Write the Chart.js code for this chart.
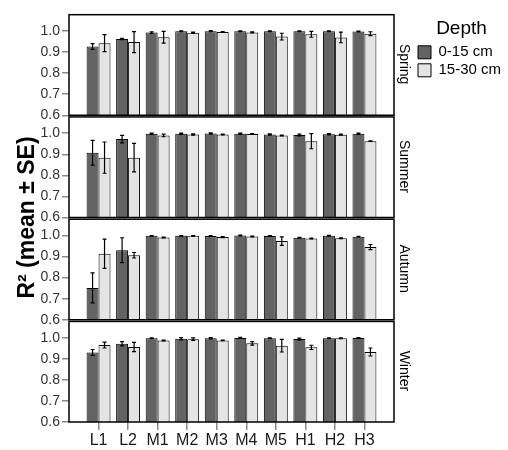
<!DOCTYPE html>
<html>
<head>
<meta charset="utf-8">
<script src="https://cdn.jsdelivr.net/npm/chart.js"></script>
<style>
  html, body { margin: 0; padding: 0; background: #fff; }
  #wrap { width: 508px; height: 450px; position: relative; }
</style>
</head>
<body>
<div id="wrap"><canvas id="chart"></canvas></div>
<script>
const categories = ['L1', 'L2', 'M1', 'M2', 'M3', 'M4', 'M5', 'H1', 'H2', 'H3'];
const seasons = ['Spring', 'Summer', 'Autumn', 'Winter'];
const depths = ['0-15 cm', '15-30 cm'];

// R2 means, one array per season and depth
const springTop = [0.926, 0.962, 0.992, 0.998, 0.999, 0.998, 0.998, 0.998, 0.998, 0.997];
const springTopSE = [0.014, 0.003, 0.004, 0.002, 0.002, 0.002, 0.002, 0.002, 0.002, 0.002];
const springSub = [0.942, 0.947, 0.970, 0.991, 0.995, 0.993, 0.973, 0.984, 0.969, 0.987];
const springSubSE = [0.040, 0.050, 0.028, 0.003, 0.002, 0.002, 0.016, 0.014, 0.025, 0.009];

const summerTop = [0.907, 0.972, 0.997, 0.997, 0.998, 0.997, 0.994, 0.991, 0.995, 0.997];
const summerTopSE = [0.059, 0.018, 0.003, 0.003, 0.003, 0.003, 0.003, 0.004, 0.003, 0.003];
const summerSub = [0.884, 0.884, 0.989, 0.994, 0.994, 0.996, 0.989, 0.962, 0.993, 0.962];
const summerSubSE = [0.074, 0.068, 0.006, 0.003, 0.002, 0.002, 0.002, 0.036, 0.002, 0.001];

const autumnTop = [0.751, 0.930, 0.998, 0.998, 0.997, 1.000, 0.997, 0.989, 0.998, 0.994];
const autumnTopSE = [0.071, 0.059, 0.001, 0.001, 0.002, 0.002, 0.002, 0.002, 0.002, 0.001];
const autumnSub = [0.913, 0.906, 0.990, 0.998, 0.992, 0.995, 0.973, 0.985, 0.987, 0.945];
const autumnSubSE = [0.069, 0.013, 0.002, 0.001, 0.002, 0.002, 0.020, 0.002, 0.002, 0.012];

const winterTop = [0.930, 0.971, 0.997, 0.995, 0.997, 0.999, 0.997, 0.994, 0.997, 0.998];
const winterTopSE = [0.014, 0.010, 0.002, 0.005, 0.003, 0.002, 0.002, 0.004, 0.002, 0.002];
const winterSub = [0.965, 0.956, 0.987, 0.993, 0.987, 0.973, 0.962, 0.954, 0.997, 0.932];
const winterSubSE = [0.014, 0.022, 0.002, 0.006, 0.001, 0.008, 0.030, 0.010, 0.002, 0.019];

const yTicks = [0.6, 0.7, 0.8, 0.9, 1.0];

const seriesBySeason = {
    Spring: [[springTop, springTopSE], [springSub, springSubSE]],
    Summer: [[summerTop, summerTopSE], [summerSub, summerSubSE]],
    Autumn: [[autumnTop, autumnTopSE], [autumnSub, autumnSubSE]],
    Winter: [[winterTop, winterTopSE], [winterSub, winterSubSE]]
};

const barFill = ['#636363', '#e4e4e4'];
const yMin = 0.6;
const yMax = 1.085;
const frameTop = 1.077;

Chart.defaults.font.family = "'Liberation Sans', Arial, sans-serif";
Chart.defaults.color = '#000';

// pad the category axis with a blank slot at each end
const labels = [''].concat(categories, ['']);
const pad = arr => [null].concat(arr, [null]);

const datasets = [];
seasons.forEach(season => {
    seriesBySeason[season].forEach((pair, d) => {
        datasets.push({
            label: depths[d],
            data: pad(pair[0]),
            se: pad(pair[1]),
            yAxisID: 'y' + season,
            stack: 'depth' + d,
            backgroundColor: barFill[d],
            borderColor: '#000',
            borderWidth: 1,
            categoryPercentage: 0.81,
            barPercentage: 1.0
        });
    });
});

const scales = {
    x: {
        offset: false,
        grid: {
            offset: false,
            drawOnChartArea: false,
            tickLength: 8,
            lineWidth: 1.5,
            color: ctx => (ctx.index === 0 || ctx.index === labels.length - 1) ? 'rgba(0,0,0,0)' : '#8a8a8a'
        },
        border: { display: false },
        ticks: { font: { size: 16 }, color: '#1a1a1a', padding: 1, autoSkip: false, maxRotation: 0 },
        afterFit: s => { s.height = 28; }
    }
};

// left panels: last defined ends up on top of the stack
seasons.slice().reverse().forEach(season => {
    scales['y' + season] = {
        position: 'left',
        stack: 'panels',
        stacked: false,
        min: yMin,
        max: yMax,
        afterBuildTicks: s => { s.ticks = yTicks.map(v => ({ value: v })); },
        ticks: { font: { size: 14 }, color: '#333', padding: 2, autoSkip: false, callback: v => v.toFixed(1) },
        grid: { drawOnChartArea: false, tickLength: 7, color: '#8a8a8a', lineWidth: 1.5 },
        border: { display: false },
        afterFit: s => { s.width = 29; }
    };
});

scales.yTitle = {
    position: 'left',
    min: 0,
    max: 1,
    ticks: { display: false },
    grid: { display: false },
    border: { display: false },
    title: {
        display: true,
        text: 'R\u00b2 (mean \u00b1 SE)',
        font: { size: 23, weight: 'bold' },
        padding: { top: 14, bottom: 0 }
    },
    afterFit: s => { s.width = 40; }
};

// strip labels on the right, first defined on top
seasons.forEach(season => {
    scales['strip' + season] = {
        axis: 'y',
        position: 'right',
        stack: 'strips',
        min: 0,
        max: 1,
        ticks: { display: false },
        grid: { display: false },
        border: { display: false },
        title: {
            display: true,
            text: season,
            font: { size: 14 },
            padding: { top: 3, bottom: 0 }
        },
        afterFit: s => { s.width = 21; }
    };
});

const panelFrames = {
    id: 'panelFrames',
    afterDatasetsDraw(chart) {
        const { ctx, chartArea } = chart;
        ctx.save();
        seasons.forEach(season => {
            const s = chart.scales['y' + season];
            const top = s.getPixelForValue(frameTop);
            const bottom = s.getPixelForValue(yMin);
            ctx.strokeStyle = '#000';
            ctx.lineWidth = 1.5;
            ctx.strokeRect(chartArea.left, top, chartArea.right - chartArea.left, bottom - top);
        });
        ctx.restore();
    }
};

const errorBars = {
    id: 'errorBars',
    afterDatasetsDraw(chart) {
        const { ctx } = chart;
        ctx.save();
        ctx.strokeStyle = '#000';
        ctx.lineWidth = 1.2;
        chart.data.datasets.forEach((ds, i) => {
            const meta = chart.getDatasetMeta(i);
            const s = chart.scales[ds.yAxisID];
            meta.data.forEach((bar, j) => {
                const v = ds.data[j];
                if (v == null) return;
                const hi = s.getPixelForValue(v + ds.se[j]);
                const lo = s.getPixelForValue(v - ds.se[j]);
                ctx.beginPath();
                ctx.moveTo(bar.x, hi);
                ctx.lineTo(bar.x, lo);
                ctx.moveTo(bar.x - 2, hi);
                ctx.lineTo(bar.x + 2, hi);
                ctx.moveTo(bar.x - 2, lo);
                ctx.lineTo(bar.x + 2, lo);
                ctx.stroke();
            });
        });
        ctx.restore();
    }
};

const config = {
    type: 'bar',
    data: { labels: labels, datasets: datasets },
    options: {
        responsive: true,
        maintainAspectRatio: false,
        animation: false,
        devicePixelRatio: 1,
        layout: { padding: { top: 13, right: 0, bottom: 0, left: 0 } },
        scales: scales,
        plugins: {
            legend: {
                position: 'right',
                align: 'start',
                maxWidth: 93,
                title: { display: true, text: 'Depth', font: { size: 19 }, padding: { top: 6, bottom: 0 } },
                labels: {
                    boxWidth: 13,
                    boxHeight: 13,
                    padding: 3,
                    font: { size: 15 },
                    filter: item => item.datasetIndex < 2
                }
            },
            tooltip: { enabled: false }
        }
    },
    plugins: [panelFrames, errorBars]
};

const myChart = new Chart(document.getElementById('chart'), config);
</script>
</body>
</html>
